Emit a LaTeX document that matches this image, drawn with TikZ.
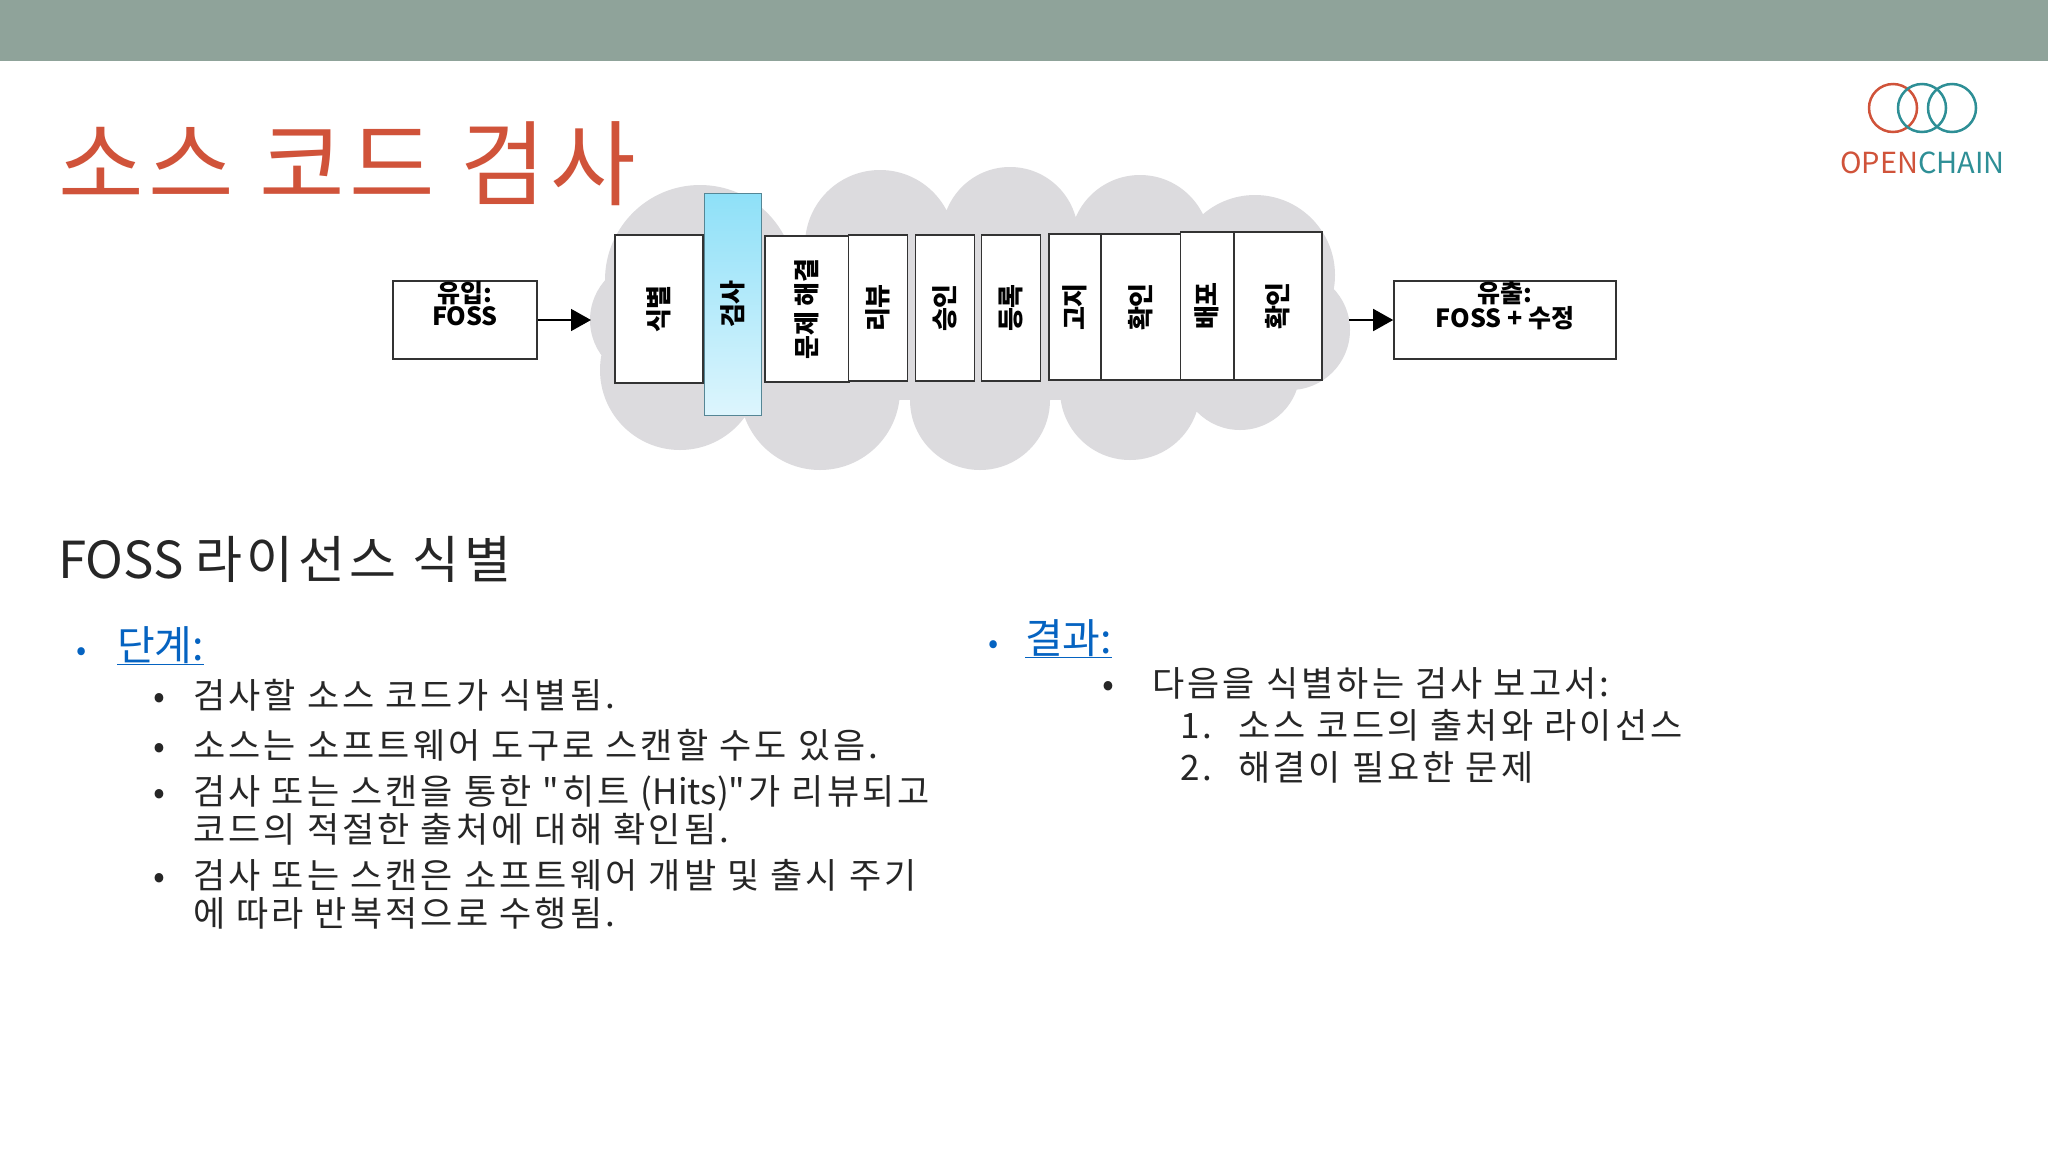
\documentclass[tikz,border=0pt]{standalone}
\usepackage{fontspec}
\setmainfont{Noto Sans CJK KR}
\newfontfamily\krs{Noto Sans CJK KR}[LetterSpace=9]
\newfontfamily\krt{Noto Sans CJK KR}[LetterSpace=5]
\usetikzlibrary{arrows.meta}
\definecolor{barc}{HTML}{8FA39A}
\definecolor{titc}{HTML}{D0533A}
\definecolor{linkc}{HTML}{0563C1}
\definecolor{cloudc}{HTML}{DCDBDE}
\definecolor{tealc}{HTML}{2E8F96}
\definecolor{txt}{HTML}{262626}
\definecolor{skytop}{HTML}{8EE0F8}
\definecolor{skybot}{HTML}{DDF5FD}
\tikzset{
 stage/.style={draw=black!80,line width=1.6pt,fill=white,minimum width=#1,inner sep=0pt},
 vtxt/.style={rotate=90,font=\fontsize{26}{26}\selectfont\bfseries},
 io/.style={draw=black!80,line width=1.6pt,fill=white,inner sep=0pt},
 iot/.style={font=\fontsize{25}{19}\selectfont\bfseries,align=center,anchor=north},
 arr/.style={line width=1.6pt,-{Triangle[length=20pt,width=22pt]}},
 body/.style={anchor=base west,font=\krs\fontsize{35}{38}\selectfont,text=txt,inner sep=0pt},
}
\begin{document}
\begin{tikzpicture}[x=1pt,y=-1pt]
\useasboundingbox (0,0) rectangle (2048,1152);
\fill[white] (0,0) rectangle (2048,1152);
\fill[barc] (0,0) rectangle (2048,61);
\node[anchor=base west,text=titc,font=\krt\fontsize{93}{93}\selectfont,inner sep=0pt] (title) at (58,198) {소스 코드 검사};
% logo
\draw[titc,line width=2.5pt] (1893,108) circle (24);
\draw[tealc,line width=2.5pt] (1922,108) circle (24);
\draw[tealc,line width=2.5pt] (1952,108) circle (24);
\node[anchor=base west,font=\fontsize{29}{29}\selectfont,inner sep=0pt] (logo) at (1840,173) {\textcolor{titc}{OPEN}\textcolor{tealc}{CHAIN}};
% cloud
\fill[cloudc] (700,280) circle (95) (880,245) circle (75) (1010,235) circle (68) (1140,245) circle (70)
 (1255,275) circle (80) (1290,330) circle (60) (680,370) circle (80) (820,390) circle (80) (980,400) circle (70)
 (1130,390) circle (70) (1240,370) circle (60) (650,320) circle (60);
\fill[cloudc] (650,250) rectangle (1290,400);
% stages
\node[stage=88pt,minimum height=148pt] (s1) at (659,309) {};
\node[vtxt] at (s1) {식별};
\node[draw=skytop!60!black,line width=1pt,minimum width=57pt,minimum height=222pt,inner sep=0pt,
  top color=skytop,bottom color=skybot] (s2) at (733,304) {};
\node[vtxt] at (s2) {검사};
\node[stage=84pt,minimum height=146pt] (s3) at (807,309) {};
\node[vtxt] at (s3) {문제 해결};
\node[stage=59pt,minimum height=146pt] (s4) at (878,308) {};
\node[vtxt] at (s4) {리뷰};
\node[stage=59pt,minimum height=146pt] (s5) at (945,308) {};
\node[vtxt] at (s5) {승인};
\node[stage=59pt,minimum height=146pt] (s6) at (1011,308) {};
\node[vtxt] at (s6) {등록};
\node[stage=52pt,minimum height=146pt] (s7) at (1075,307) {};
\node[vtxt] at (s7) {고지};
\node[stage=80pt,minimum height=146pt] (s8) at (1141,307) {};
\node[vtxt] at (s8) {확인};
\node[stage=53pt,minimum height=148pt] (s9) at (1207,306) {};
\node[vtxt] at (s9) {배포};
\node[stage=88pt,minimum height=148pt] (s10) at (1278,306) {};
\node[vtxt] at (s10) {확인};
% io boxes
\node[io,minimum width=144pt,minimum height=78pt] (in) at (465,320) {};
\node[iot] at ([yshift=2pt]in.north) {유입:\\FOSS};
\node[io,minimum width=222pt,minimum height=78pt] (out) at (1505,320) {};
\node[iot] at ([yshift=2pt]out.north) {유출:\\FOSS + 수정};
\draw[arr] (in.east) -- (591,320);
\draw[arr] (1349,320) -- (out.west);
% text
\node[anchor=base west,font=\fontsize{51}{51}\selectfont,text=txt,inner sep=0pt] (sub) at (58,578) {FOSS {\krs 라이선스 식별}};
\node[anchor=base west,font=\fontsize{30}{30}\selectfont,text=linkc,inner sep=0pt] (b1) at (76,660) {•};
\node[anchor=base west,font=\fontsize{41}{41}\selectfont,text=linkc,inner sep=0pt] (l1) at (117,660) {\underline{단계:}};
\foreach \yy in {708,758,804,888}{\node[body] at (153,\yy) {•};}
\node[body] (t1) at (193,708) {검사할 소스 코드가 식별됨.};
\node[body] (t2) at (193,758) {소스는 소프트웨어 도구로 스캔할 수도 있음.};
\node[body,align=left,anchor=north west] (t3) at (193,775) {검사 또는 스캔을 통한 \symbol{34}히트 {\rmfamily(Hits)}\symbol{34}가 리뷰되고\\코드의 적절한 출처에 대해 확인됨.};
\node[body,align=left,anchor=north west] (t4) at (193,859) {검사 또는 스캔은 소프트웨어 개발 및 출시 주기\\에 따라 반복적으로 수행됨.};
\node[anchor=base west,font=\fontsize{30}{30}\selectfont,text=linkc,inner sep=0pt] (b2) at (988,653) {•};
\node[anchor=base west,font=\fontsize{41}{41}\selectfont,text=linkc,inner sep=0pt] (l2) at (1025,653) {\underline{결과:}};
\node[body] at (1102,696) {•};
\node[body] (r1) at (1152,696) {다음을 식별하는 검사 보고서:};
\node[body] at (1180,738) {1.};
\node[body] (r2) at (1238,738) {소스 코드의 출처와 라이선스};
\node[body] at (1180,780) {2.};
\node[body] (r3) at (1238,780) {해결이 필요한 문제};
\end{tikzpicture}
\end{document}
